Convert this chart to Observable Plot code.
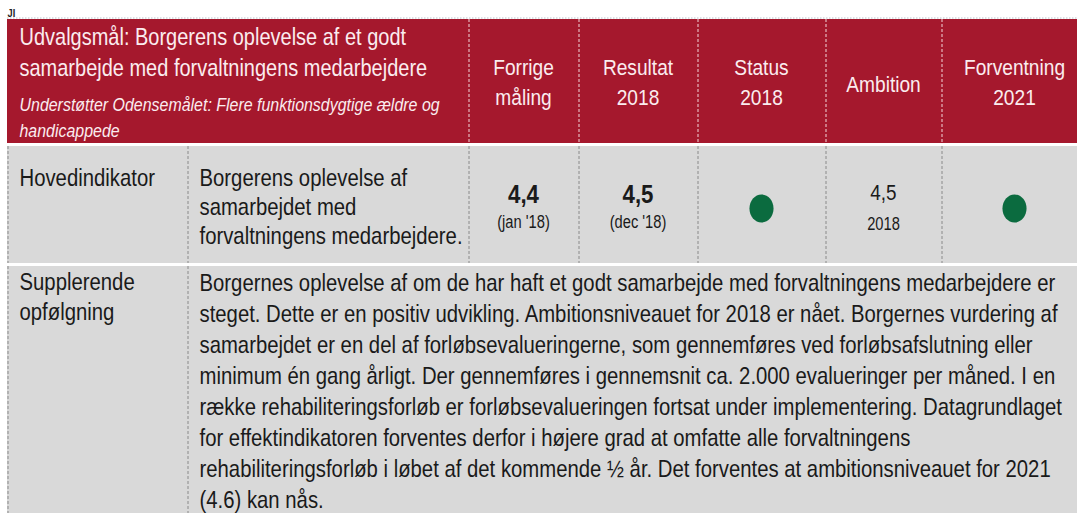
<!DOCTYPE html>
<html><head><meta charset="utf-8">
<script src="https://cdn.jsdelivr.net/npm/d3@7"></script>
<script src="https://cdn.jsdelivr.net/npm/@observablehq/plot@0.6"></script>
<style>html,body{margin:0;padding:0;background:#fff} svg{display:block}</style>
</head><body><div id="chart"></div>
<script>
// ---------- DATA ----------
const titleLines = ["Udvalgsmål: Borgerens oplevelse af et godt", "samarbejde med forvaltningens medarbejdere"];
const subtitleLines = ["Understøtter Odensemålet: Flere funktionsdygtige ældre og", "handicappede"];
const columnHeaders = ["Forrige\nmåling", "Resultat\n2018", "Status\n2018", "Ambition", "Forventning\n2021"];
const rowLabels = ["Hovedindikator", "Supplerende\nopfølgning"];
const indicatorLines = ["Borgerens oplevelse af", "samarbejdet med", "forvaltningens medarbejdere."];
const measuredValues = [4.4, 4.5];
const measuredPeriods = ["(jan '18)", "(dec '18)"];
const ambitionValue = 4.5;
const ambitionYear = "2018";
const statusColumns = ["Status\n2018", "Forventning\n2021"];
const statusValues = ["grøn", "grøn"];
const followUpLines = [
  "Borgernes oplevelse af om de har haft et godt samarbejde med forvaltningens medarbejdere er",
  "steget. Dette er en positiv udvikling. Ambitionsniveauet for 2018 er nået. Borgernes vurdering af",
  "samarbejdet er en del af forløbsevalueringerne, som gennemføres ved forløbsafslutning eller",
  "minimum én gang årligt. Der gennemføres i gennemsnit ca. 2.000 evalueringer per måned. I en",
  "række rehabiliteringsforløb er forløbsevalueringen fortsat under implementering. Datagrundlaget",
  "for effektindikatoren forventes derfor i højere grad at omfatte alle forvaltningens",
  "rehabiliteringsforløb i løbet af det kommende ½ år. Det forventes at ambitionsniveauet for 2021",
  "(4.6) kan nås."
];
const statusColors = {"grøn": "#0b6b3f"};

// ---------- LAYOUT ----------
const W = 1077, H = 513;
const FONT = "'Liberation Sans',Arial,sans-serif";
const NARROW = 0.84; // Arial Narrow look: horizontally condensed Liberation Sans
const colEdges = [7, 187, 468, 578, 697, 825, 941, 1087];
const headerBand = [19, 143], mainBand = [146, 263], followBand = [266, 520];
const RED = "#a5182d", GRAY = "#d9d9d9", HTEXT = "#fbecef", TEXT = "#1a1a1a";
const BODY = 24.2;
const valueCols = columnHeaders.map((h, i) => ({
  header: h, x1: colEdges[i + 2], x2: colEdges[i + 3], cx: (colEdges[i + 2] + colEdges[i + 3]) / 2
}));
const colX = h => valueCols.find(c => c.header === h).cx;
const fmt = v => v.toFixed(1).replace(".", ",");

const cells = [
  {x1: colEdges[0], x2: W, y1: headerBand[0], y2: headerBand[1], fill: RED},
  {x1: colEdges[0], x2: W, y1: mainBand[0], y2: mainBand[1], fill: GRAY},
  {x1: colEdges[0], x2: W, y1: followBand[0], y2: followBand[1], fill: GRAY}
];
const headerDividers = colEdges.slice(2, 7);
const mainDividers = colEdges.slice(0, 7);
const followDividers = colEdges.slice(0, 2);

// elliptical symbol for the status dots
const ovalSymbol = {
  draw(ctx, size) {
    const ry = Math.sqrt(size / Math.PI), rx = ry * 0.86, k = 0.5523;
    ctx.moveTo(rx, 0);
    ctx.bezierCurveTo(rx, ry * k, rx * k, ry, 0, ry);
    ctx.bezierCurveTo(-rx * k, ry, -rx, ry * k, -rx, 0);
    ctx.bezierCurveTo(-rx, -ry * k, -rx * k, -ry, 0, -ry);
    ctx.bezierCurveTo(rx * k, -ry, rx, -ry * k, rx, 0);
    ctx.closePath();
  }
};

const chart = Plot.plot({
  width: W, height: H, margin: 0,
  x: {type: "identity", axis: null},
  y: {type: "identity", axis: null},
  style: {fontFamily: FONT, background: "#fff", overflow: "visible"},
  marks: [
    Plot.text(["JI"], {x: 7, y: 16, text: d => d, textAnchor: "start", lineAnchor: "bottom", fontSize: 11, fontWeight: "bold", fill: "#222"}),
    Plot.ruleY([17.5], {x1: 7, x2: W, stroke: "#b8c2cc", strokeDasharray: "1.5,1.5"}),
    Plot.rect(cells, {x1: "x1", x2: "x2", y1: "y1", y2: "y2", fill: "fill"}),
    Plot.ruleX(headerDividers, {x: d => d + 0.5, y1: headerBand[0], y2: headerBand[1], stroke: "#f3d6dc", strokeDasharray: "3,2", strokeWidth: 1}),
    Plot.ruleX(mainDividers, {x: d => d + 0.5, y1: mainBand[0], y2: mainBand[1], stroke: "#8a8a8a", strokeDasharray: "3,2", strokeWidth: 1}),
    Plot.ruleX(followDividers, {x: d => d + 0.5, y1: followBand[0], y2: followBand[1], stroke: "#8a8a8a", strokeDasharray: "3,2", strokeWidth: 1}),
    // header title
    Plot.text([titleLines.join("\n")], {x: 19, y: 75, text: d => d, textAnchor: "start", lineAnchor: "bottom", fontSize: 23.8, lineHeight: 31 / 23.8, fill: HTEXT}),
    Plot.text([subtitleLines.join("\n")], {x: 19, y: 136, text: d => d, textAnchor: "start", lineAnchor: "bottom", fontSize: 19, lineHeight: 26 / 19, fill: HTEXT, fontStyle: "italic"}),
    // column headers
    Plot.text(valueCols.filter(c => c.header.includes("\n")), {x: "cx", y: 104, text: "header", textAnchor: "middle", lineAnchor: "bottom", fontSize: 22.8, lineHeight: 30 / 22.8, fill: HTEXT}),
    Plot.text(valueCols.filter(c => !c.header.includes("\n")), {x: "cx", y: 91, text: "header", textAnchor: "middle", lineAnchor: "bottom", fontSize: 22.8, fill: HTEXT}),
    // row labels
    Plot.text(rowLabels.slice(0, 1), {x: 19, y: 185, text: d => d, textAnchor: "start", lineAnchor: "bottom", fontSize: BODY, fill: TEXT}),
    Plot.text(rowLabels.slice(1), {x: 19, y: 319, text: d => d, textAnchor: "start", lineAnchor: "bottom", fontSize: BODY, lineHeight: 30 / BODY, fill: TEXT}),
    // indicator description
    Plot.text([indicatorLines.join("\n")], {x: 199, y: 243, text: d => d, textAnchor: "start", lineAnchor: "bottom", fontSize: BODY, lineHeight: 29 / BODY, fill: TEXT}),
    // measured values
    Plot.text(measuredValues, {x: (d, i) => valueCols[i].cx, y: 202, text: fmt, textAnchor: "middle", lineAnchor: "bottom", fontSize: 26.5, fontWeight: "bold", fill: TEXT}),
    Plot.text(measuredPeriods, {x: (d, i) => valueCols[i].cx, y: 227, text: d => d, textAnchor: "middle", lineAnchor: "bottom", fontSize: 17.5, fill: TEXT}),
    // ambition
    Plot.text([ambitionValue], {x: colX("Ambition"), y: 199, text: fmt, textAnchor: "middle", lineAnchor: "bottom", fontSize: 22.5, fill: TEXT}),
    Plot.text([ambitionYear], {x: colX("Ambition"), y: 229, text: d => d, textAnchor: "middle", lineAnchor: "bottom", fontSize: 17.5, fill: TEXT}),
    // status dots
    Plot.dot(statusValues, {x: (d, i) => colX(statusColumns[i]), y: 208, r: 14, symbol: ovalSymbol, fill: d => statusColors[d], stroke: "none"}),
    // follow-up paragraph
    Plot.text([followUpLines.join("\n")], {x: 199, y: 507, text: d => d, textAnchor: "start", lineAnchor: "bottom", fontSize: BODY, lineHeight: 31 / BODY, fill: TEXT})
  ]
});
// condense every text horizontally around its own anchor (Arial Narrow look)
chart.querySelectorAll("text").forEach(t => {
  const tr = t.getAttribute("transform") || "";
  t.setAttribute("transform", `${tr} scale(${NARROW},1)`);
});
document.getElementById("chart").appendChild(chart);
</script>
</body></html>
